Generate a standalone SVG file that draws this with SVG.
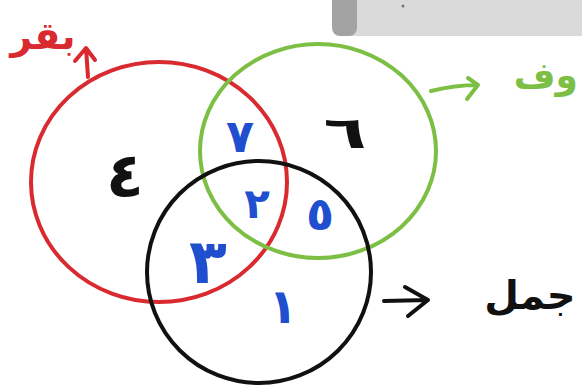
<svg xmlns="http://www.w3.org/2000/svg" width="582" height="388" viewBox="0 0 582 388">
<style>
.set{fill:none;stroke-width:4}
.red{stroke:#d92a30}
.green{stroke:#7dbf45}
.black{stroke:#111}
.num{font-family:"DejaVu Sans",sans-serif;text-anchor:middle;font-weight:bold}
.blue{fill:#1f4fcf}
.dark{fill:#111}
.lbl{font-family:"DejaVu Sans",sans-serif;font-weight:bold}
.arr{fill:none;stroke-width:4;stroke-linecap:round;stroke-linejoin:round}
</style>
<rect width="582" height="388" fill="#fff"/>
<g id="toolbar">
<rect x="340" y="0" width="242" height="36" fill="#dadada"/>
<rect x="332" y="-10" width="25" height="46" rx="8" fill="#a3a3a3"/>
<circle cx="403" cy="6" r="1.5" fill="#777"/>
</g>
<g id="set-cow"><ellipse class="set red" cx="159" cy="182" rx="128" ry="120"/></g>
<g id="set-sheep"><ellipse class="set green" cx="318" cy="151" rx="118" ry="107"/></g>
<g id="set-camel"><ellipse class="set black" cx="259" cy="272" rx="112" ry="111"/></g>
<g id="connectors">
<path class="arr" stroke="#d92a30" d="M88 77 L86 48 M75 61 L86 48 L95 60"/>
<path class="arr" stroke="#7dbf45" d="M431 91 Q455 85 478 85 M468 78 L478 85 L467 99"/>
<path class="arr" stroke="#111" d="M384 301 L428 300 M405 287 L428 300 L408 316"/>
</g>
<g id="label-cow"><text class="lbl" x="43" y="49" font-size="38" text-anchor="middle" fill="#d92a30">بقر</text></g>
<g id="label-sheep"><text class="lbl" x="578" y="88" font-size="36" text-anchor="end" fill="#7dbf45">وف</text></g>
<g id="label-camel"><text class="lbl" x="530" y="309" font-size="40" text-anchor="middle" fill="#111">جمل</text></g>
<g id="n4"><text class="num dark" x="125" y="197" font-size="62">٤</text></g>
<g id="n7"><text class="num blue" x="240" y="152" font-size="46">٧</text></g>
<g id="n6"><text class="num dark" transform="translate(345 148) scale(1.6 1)" x="0" y="0" font-size="44">٦</text></g>
<g id="n2"><text class="num blue" x="257" y="218" font-size="42">٢</text></g>
<g id="n5"><text class="num blue" x="320" y="230" font-size="46">٥</text></g>
<g id="n3"><text class="num blue" x="208" y="283" font-size="62">٣</text></g>
<g id="n1"><text class="num blue" x="283" y="323" font-size="48">١</text></g>
</svg>
